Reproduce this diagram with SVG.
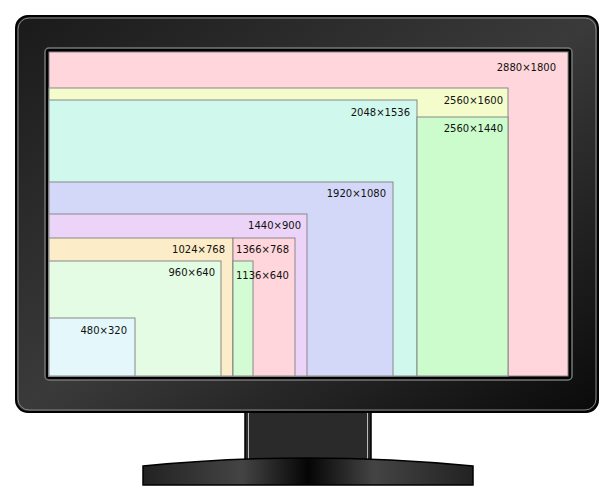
<svg xmlns="http://www.w3.org/2000/svg" width="615" height="500" viewBox="0 0 615 500">
<defs>
<linearGradient id="bz" x1="0" y1="0" x2="1" y2="1"><stop offset="0" stop-color="#1a1a1a"/><stop offset="0.5" stop-color="#3a3a3a"/><stop offset="1" stop-color="#0a0a0a"/></linearGradient>
<linearGradient id="bs" x1="0" y1="0" x2="1" y2="0"><stop offset="0" stop-color="#222"/><stop offset="0.3" stop-color="#444"/><stop offset="0.5" stop-color="#050505"/><stop offset="0.7" stop-color="#444"/><stop offset="1" stop-color="#222"/></linearGradient>
</defs>
<style>
.r{stroke:#888;stroke-width:1}
.t{font-family:"DejaVu Sans",sans-serif;font-size:10px;fill:#111;text-anchor:end}
</style>
<g id="stand">
<rect x="245" y="410" width="126" height="52" fill="#2a2a2a" stroke="#000" stroke-width="1.5"/>
<line x1="248.5" y1="412" x2="248.5" y2="460" stroke="#bbb" stroke-width="1"/>
<line x1="367.5" y1="412" x2="367.5" y2="460" stroke="#bbb" stroke-width="1"/>
<path d="M143 466 Q308 450 473 466 L473 485 L143 485 Z" fill="url(#bs)" stroke="#000" stroke-width="1.5"/>
</g>
<g id="bezel">
<rect x="16" y="16" width="582" height="396" rx="12" fill="url(#bz)" stroke="#000" stroke-width="2"/>
<rect x="18" y="18" width="578" height="392" rx="11" fill="none" stroke="#888" stroke-width="1"/>
<rect x="45" y="48" width="527" height="332" rx="4" fill="#000" stroke="#777" stroke-width="1.5"/>
</g>
<g id="screen">
<rect id="r2880" class="r" x="49" y="52" width="519" height="324" fill="#ffd6dc"/>
<rect id="r2560x1600" class="r" x="49" y="88" width="459" height="288" fill="#f5fccc"/>
<rect id="r2048" class="r" x="49" y="100" width="368" height="276" fill="#d0f8ec"/>
<rect id="r2560x1440" class="r" x="417" y="117" width="91" height="259" fill="#ccfccc"/>
<rect id="r1920" class="r" x="49" y="182" width="344" height="194" fill="#d4d8f8"/>
<rect id="r1440" class="r" x="49" y="214" width="258" height="162" fill="#ecd4f8"/>
<rect id="r1024" class="r" x="49" y="238" width="184" height="138" fill="#fcecc8"/>
<rect id="r1366" class="r" x="233" y="238" width="62" height="138" fill="#ffd6dc"/>
<rect id="r960" class="r" x="49" y="261" width="172" height="115" fill="#e4fce4"/>
<rect id="r1136" class="r" x="233" y="261" width="20" height="115" fill="#d4fcd4"/>
<rect id="r480" class="r" x="49" y="318" width="86" height="58" fill="#e4f8fc"/>
<text class="t" x="556" y="71">2880×1800</text>
<text class="t" x="503" y="104">2560×1600</text>
<text class="t" x="410" y="116">2048×1536</text>
<text class="t" x="503" y="132">2560×1440</text>
<text class="t" x="386" y="197">1920×1080</text>
<text class="t" x="301" y="229">1440×900</text>
<text class="t" x="225" y="253">1024×768</text>
<text class="t" x="289" y="253">1366×768</text>
<text class="t" x="215" y="276">960×640</text>
<text class="t" x="236" y="279" style="text-anchor:start">1136×640</text>
<text class="t" x="127" y="334">480×320</text>
</g>
</svg>
